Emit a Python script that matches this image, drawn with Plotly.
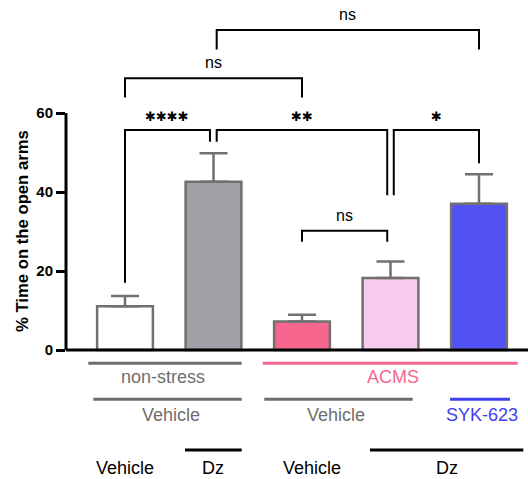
import plotly.graph_objects as go

# ---- data ----
groups = ["non-stress Vehicle/Vehicle", "non-stress Vehicle/Dz", "ACMS Vehicle/Vehicle",
          "ACMS Vehicle/Dz", "ACMS SYK-623/Dz"]
means = [11.1, 42.6, 7.2, 18.2, 37.0]
sem_up = [2.6, 7.2, 1.7, 4.2, 7.5]
bar_colors = ["#ffffff", "#a1a0a6", "#f7668f", "#f8cbee", "#5252f4"]
y_ticks = [0, 20, 40, 60]

# significance brackets: (left group, right group, left offset, right offset, top, left leg end, right leg end, label)
brackets = [
    (0, 1, 0.0, -0.04, 55.7, 17.0, 52.7, "****"),
    (1, 3, 0.036, -0.037, 55.7, 52.7, 39.2, "**"),
    (3, 4, 0.037, 0.0, 55.7, 39.2, 47.3, "*"),
    (0, 2, 0.0, 0.0, 68.8, 63.9, 63.9, "ns"),
    (1, 4, 0.036, 0.0, 81.0, 76.1, 76.1, "ns"),
    (2, 3, 0.0, -0.037, 30.2, 27.4, 27.4, "ns"),
]

# group label rows: (text, x center, x line start, x line end, color, line y px, text y px)
row_labels = [
    ("non-stress", 162.7, 88.3, 241.7, "#6e6e6e", 363.3, 377),
    ("ACMS", 393.3, 262.7, 517.7, "#f7668f", 363.3, 377),
    ("Vehicle", 171, 93.3, 241.7, "#6e6e6e", 399.3, 415),
    ("Vehicle", 336, 264.3, 412.7, "#6e6e6e", 399.3, 415),
    ("SYK-623", 481.7, 450, 510, "#4040f0", 399.3, 415),
    ("Vehicle", 125, None, None, "#000000", 450, 468),
    ("Dz", 213.3, 185, 241.7, "#000000", 450, 468),
    ("Vehicle", 311.7, None, None, "#000000", 450, 468),
    ("Dz", 446.7, 370, 523.3, "#000000", 450, 468),
]

# ---- geometry helpers (pixel -> data) ----
W, H = 528, 479
L = 66
x0px, dx = 125.0, 88.5
y0px, dy = 350.0, 3.95
xr = [(L - x0px) / dx, (W - x0px) / dx]
yr = [(y0px - H) / dy, y0px / dy]
px2x = lambda p: (p - x0px) / dx
px2y = lambda p: (y0px - p) / dy

FONT = "Arial, Liberation Sans, Helvetica, sans-serif"
GREY = "#707070"

xs = list(range(len(groups)))
fig = go.Figure()
fig.add_trace(go.Bar(
    x=xs, y=means, width=0.63,
    marker=dict(color=bar_colors, line=dict(color=GREY, width=2.5)),
    error_y=dict(type="data", array=sem_up, arrayminus=[0] * len(means), symmetric=False,
                 color=GREY, thickness=2.5, width=14),
    showlegend=False, hoverinfo="skip",
))

annotations = []
for (a, b, oa, ob, top, yl, yrt, lab) in brackets:
    xa, xb = a + oa, b + ob
    fig.add_trace(go.Scatter(x=[xa, xa, xb, xb], y=[yl, top, top, yrt], mode="lines",
                             line=dict(color="black", width=2), showlegend=False, hoverinfo="skip"))
    star = "*" in lab
    txt = lab.replace("*", "\u2731") if star else lab
    annotations.append(dict(x=(xa + xb) / 2, y=top + (3.3 if star else 3.9), xref="x", yref="y",
                            text=txt, showarrow=False,
                            font=dict(family="DejaVu Sans" if star else FONT,
                                      size=13 if star else 16, color="black")))

shapes = [
    dict(type="line", xref="paper", yref="y", x0=0, x1=1, y0=0, y1=0, line=dict(color="black", width=3)),
    dict(type="line", xref="paper", yref="y", x0=0, x1=0, y0=0, y1=60, line=dict(color="black", width=3)),
]
for (txt, cx, l0, l1, col, ly, ty) in row_labels:
    if l0 is not None:
        shapes.append(dict(type="line", xref="x", yref="y", x0=px2x(l0), x1=px2x(l1),
                           y0=px2y(ly), y1=px2y(ly), line=dict(color=col, width=3)))
    annotations.append(dict(x=px2x(cx), y=px2y(ty), xref="x", yref="y", text=txt, showarrow=False,
                            font=dict(family=FONT, size=18, color=col)))

annotations.append(dict(x=(22 - L) / (W - L), y=px2y(231), xref="paper", yref="y",
                        xanchor="center", yanchor="middle",
                        text="<b>% Time on the open arms</b>", textangle=-90, showarrow=False,
                        font=dict(family=FONT, size=16.7, color="black")))

fig.update_layout(
    width=W, height=H, margin=dict(l=L, r=0, t=0, b=0),
    plot_bgcolor="white", paper_bgcolor="white",
    xaxis=dict(range=xr, showticklabels=False, showgrid=False, zeroline=False, showline=False, ticks=""),
    yaxis=dict(range=yr, tickvals=y_ticks, ticktext=[f"<b>{v}</b>" for v in y_ticks],
               ticks="outside", ticklen=9, tickwidth=2.5, tickcolor="black",
               showgrid=False, zeroline=False, showline=False,
               tickfont=dict(family=FONT, size=15, color="black")),
    shapes=shapes, annotations=annotations,
)
fig.write_html("out.html", config={"displayModeBar": False},
               post_script="document.body.style.margin='0';document.body.style.overflow='hidden';")
